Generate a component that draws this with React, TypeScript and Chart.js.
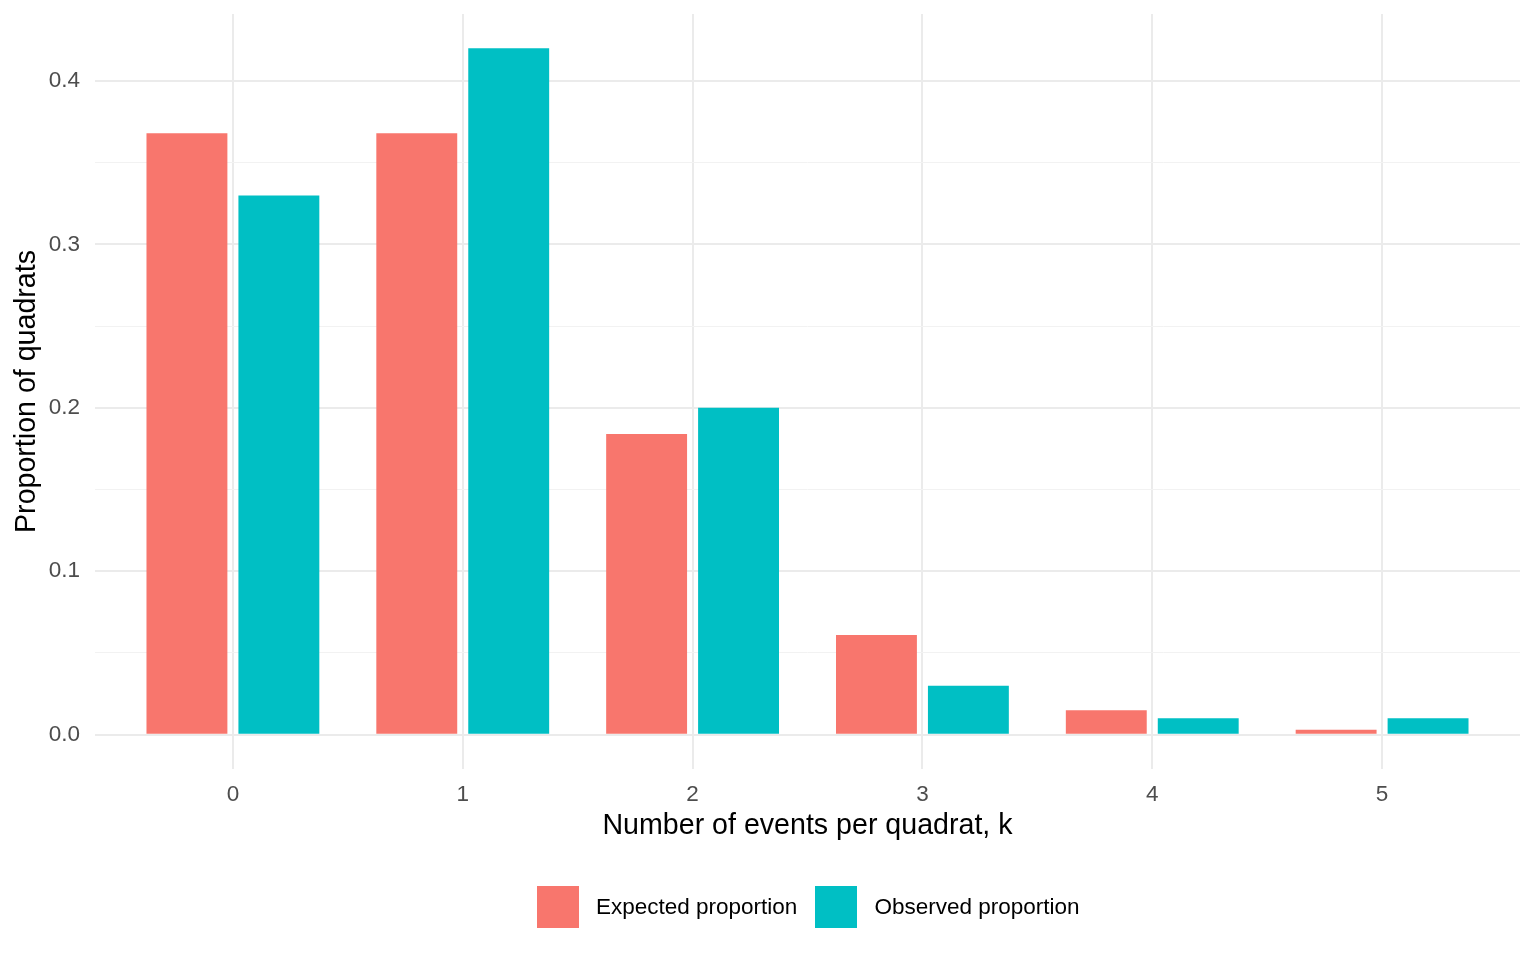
import { useEffect, useRef } from 'react';
import { Chart, registerables } from 'chart.js';

Chart.register(...registerables);

const FONT = '"Liberation Sans", Arial, Helvetica, sans-serif';

// number of events per quadrat
const kValues = [0, 1, 2, 3, 4, 5];
// series values
const expectedProportion = [0.368, 0.368, 0.184, 0.061, 0.015, 0.003];
const observedProportion = [0.33, 0.42, 0.2, 0.03, 0.01, 0.01];
const seriesLabels = ['Expected proportion', 'Observed proportion'];
const seriesColors = ['#F8766D', '#00BFC4'];

export default function App() {
  const chartRef = useRef<HTMLCanvasElement>(null);
  const chartInstance = useRef<Chart | null>(null);

  useEffect(() => {
    document.body.style.margin = '0';
    if (!chartRef.current) return;
    const ctx = chartRef.current.getContext('2d');
    if (!ctx) return;

    if (chartInstance.current) {
      chartInstance.current.destroy();
    }

    const isMajor = (v: number) => Math.round(v * 100) % 10 === 0;

    chartInstance.current = new Chart(ctx, {
      type: 'bar',
      data: {
        datasets: [
          {
            label: seriesLabels[0],
            data: kValues.map((k, i) => ({ x: k, y: expectedProportion[i] })),
            backgroundColor: seriesColors[0],
          },
          {
            label: seriesLabels[1],
            data: kValues.map((k, i) => ({ x: k, y: observedProportion[i] })),
            backgroundColor: seriesColors[1],
          },
        ],
      },
      options: {
        responsive: false,
        animation: false,
        categoryPercentage: 0.8,
        barPercentage: 0.88,
        layout: {
          padding: { top: 14, right: 16, bottom: 117, left: 0 },
        },
        plugins: {
          legend: { display: false },
          tooltip: { enabled: false },
        },
        scales: {
          x: {
            type: 'linear',
            min: -0.6,
            max: 5.6,
            offset: false,
            afterFit: (scale: any) => {
              scale.height = 74;
              scale.paddingLeft = 0;
              scale.paddingRight = 0;
            },
            grid: {
              color: '#EBEBEB',
              lineWidth: 2,
              drawTicks: false,
              offset: false,
            },
            border: { display: false },
            ticks: {
              stepSize: 1,
              includeBounds: false,
              padding: 12,
              color: '#4D4D4D',
              font: { family: FONT, size: 22.5 },
            },
            title: {
              display: true,
              text: 'Number of events per quadrat, k',
              color: '#000000',
              font: { family: FONT, size: 28.6 },
              padding: { top: 0, bottom: 0 },
            },
          },
          y: {
            min: -0.021,
            max: 0.441,
            afterFit: (scale: any) => {
              scale.width = 95;
              scale.paddingTop = 0;
              scale.paddingBottom = 0;
            },
            grid: {
              color: (c: any) => (isMajor(c.tick.value) ? '#EBEBEB' : '#F2F2F2'),
              lineWidth: (c: any) => (isMajor(c.tick.value) ? 2 : 1),
              drawTicks: false,
            },
            border: { display: false },
            ticks: {
              stepSize: 0.05,
              includeBounds: false,
              padding: 15,
              color: '#4D4D4D',
              font: { family: FONT, size: 22.5 },
              callback: (v: any) => (isMajor(Number(v)) ? Number(v).toFixed(1) : ''),
            },
            title: {
              display: true,
              text: 'Proportion of quadrats',
              color: '#000000',
              font: { family: FONT, size: 28.6 },
              padding: { top: 10, bottom: 0 },
            },
          },
        },
      },
    });

    return () => {
      if (chartInstance.current) {
        chartInstance.current.destroy();
        chartInstance.current = null;
      }
    };
  }, []);

  return (
    <div
      style={{
        position: 'fixed',
        left: 0,
        top: 0,
        width: 1536,
        height: 960,
        background: '#FFFFFF',
        fontFamily: FONT,
      }}
    >
      <canvas ref={chartRef} width={1536} height={960}></canvas>
      <div
        style={{
          position: 'absolute',
          left: 537,
          top: 886,
          height: 42,
          display: 'flex',
          alignItems: 'center',
          fontSize: 22.5,
          color: '#000000',
        }}
      >
        {seriesLabels.map((label, i) => (
          <div key={label} style={{ display: 'flex', alignItems: 'center', marginRight: 18 }}>
            <span style={{ width: 42, height: 42, background: seriesColors[i], marginRight: 17 }} />
            <span style={{ lineHeight: '42px', whiteSpace: 'nowrap' }}>{label}</span>
          </div>
        ))}
      </div>
    </div>
  );
}
